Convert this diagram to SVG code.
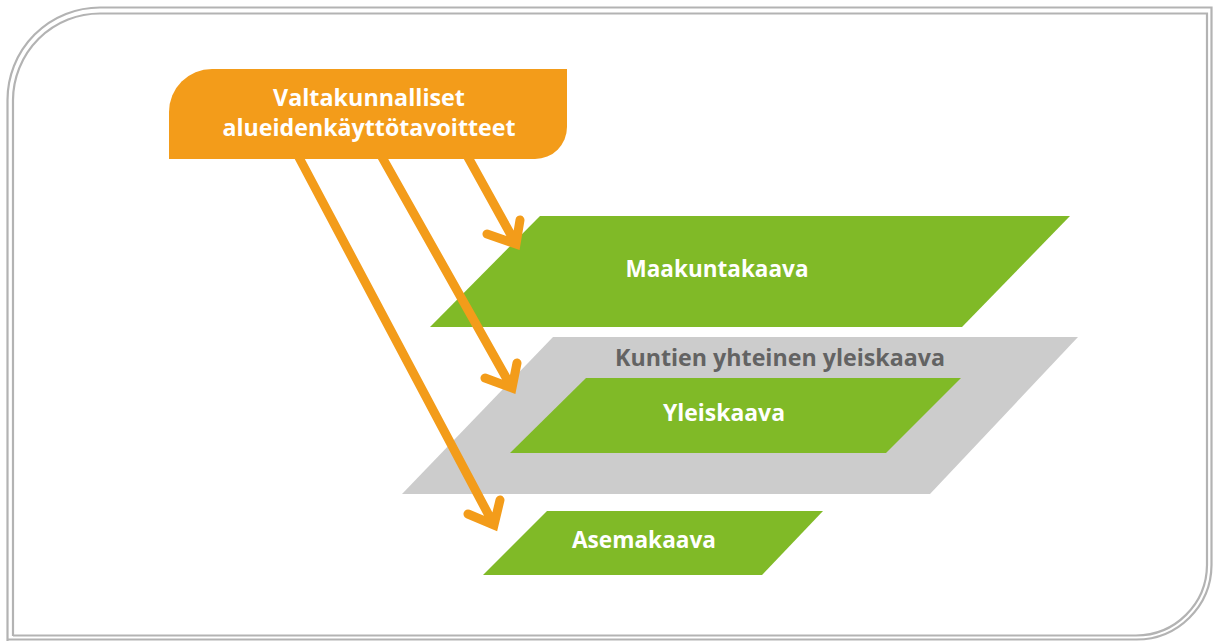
<svg xmlns="http://www.w3.org/2000/svg" width="1214" height="641" viewBox="0 0 1214 641">
<defs>
<style>
.frame{fill:none;stroke:#b3b3b3;stroke-width:2.2}
.green{fill:#80ba27}
.gray{fill:#cccccc}
.orange{fill:#f39c1a}
.lbl{font-family:"Open Sans","Liberation Sans",sans-serif;font-weight:700;font-size:24px;fill:#ffffff;text-anchor:middle}
.glbl{font-family:"Open Sans","Liberation Sans",sans-serif;font-weight:700;font-size:23px;fill:#636363;text-anchor:middle}
.arr{fill:none;stroke:#f39c1a;stroke-width:9;stroke-linecap:round;stroke-linejoin:miter;stroke-miterlimit:10}
</style>
</defs>
<rect width="1214" height="641" fill="#ffffff"/>
<g id="frame">
<path class="frame" d="M7.5,645 V100 A92.5,92.5 0 0 1 100,7.5 H1211.5 V565 A75,75 0 0 1 1136.5,639.5 H7.5"/>
<path class="frame" d="M13,636 V100 A87,87 0 0 1 100,13.5 H1207 V565 A71,71 0 0 1 1136,635.5 H13 Z"/>
</g>
<g id="node-kuntien">
<polygon class="gray" points="553,337 1078,337 930,494 402,494"/>
<text class="glbl" x="780" y="366" textLength="330" lengthAdjust="spacingAndGlyphs">Kuntien yhteinen yleiskaava</text>
</g>
<g id="node-maakuntakaava">
<polygon class="green" points="540,216 1070,216 962,327 430,327"/>
<text class="lbl" x="717" y="277" textLength="183" lengthAdjust="spacingAndGlyphs">Maakuntakaava</text>
</g>
<g id="node-yleiskaava">
<polygon class="green" points="586,378 961,378 886,453 510,453"/>
<text class="lbl" x="724" y="421" textLength="122" lengthAdjust="spacingAndGlyphs">Yleiskaava</text>
</g>
<g id="node-asemakaava">
<polygon class="green" points="547,511 823,511 762,575 483,575"/>
<text class="lbl" x="644" y="548" textLength="144" lengthAdjust="spacingAndGlyphs">Asemakaava</text>
</g>
<g id="connectors">
<path class="arr" d="M464,150 L516,244 M487,234 L516,244 L520,220"/>
<path class="arr" d="M378,150 L512,388 M485,378 L512,388 L517,363"/>
<path class="arr" d="M295,150 L494,525 M468,514 L494,525 L500,500"/>
</g>
<g id="node-valtakunnalliset">
<path class="orange" d="M169,159 V112 A43,43 0 0 1 212,69 H567 V127 A32,32 0 0 1 535,159 Z"/>
<text class="lbl" x="369" y="106" font-size="24" textLength="192" lengthAdjust="spacingAndGlyphs">Valtakunnalliset</text>
<text class="lbl" x="369" y="136" font-size="24" textLength="293" lengthAdjust="spacingAndGlyphs">alueidenkäyttötavoitteet</text>
</g>
</svg>
